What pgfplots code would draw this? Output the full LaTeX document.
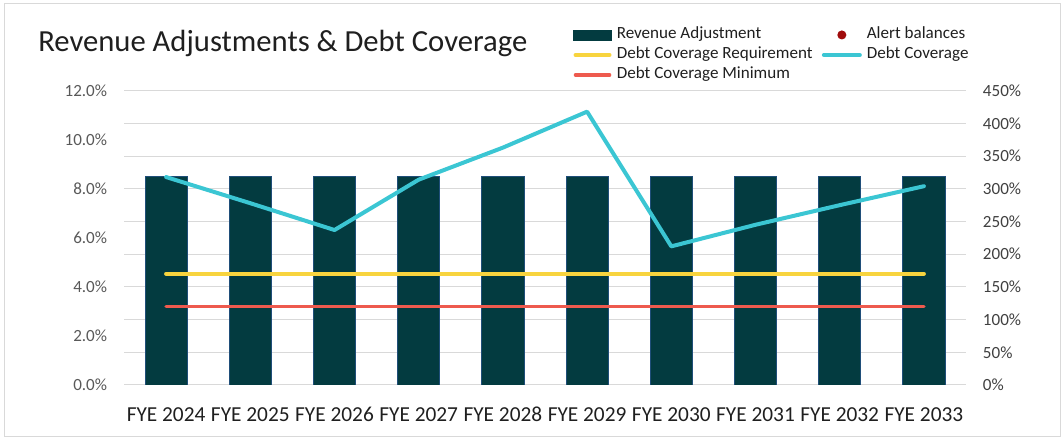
\documentclass[border=0pt]{standalone}
\usepackage{fontspec}
\setmainfont{Carlito}
\usepackage{pgfplots}
\pgfplotsset{compat=1.18}
\definecolor{barfill}{HTML}{033B40}
\definecolor{baredge}{HTML}{1F4E79}
\definecolor{covcyan}{HTML}{3BC6D3}
\definecolor{reqyellow}{HTML}{F8D43E}
\definecolor{minred}{HTML}{EE5A4E}
\definecolor{alertred}{HTML}{A00C0C}
\definecolor{gridgray}{HTML}{D9D9D9}
\definecolor{leftlab}{HTML}{595959}
\definecolor{rightlab}{HTML}{404040}
\definecolor{textdark}{HTML}{1F1F1F}

\pgfplotsset{
  lineleg/.style={legend image code/.code={\draw[##1,line cap=round] (1.5pt,0pt) -- (27pt,0pt);}},
  covleg/.style={legend image code/.code={\draw[##1,line cap=round] (1.5pt,0pt) -- (28.5pt,0pt);}},
  barleg/.style={legend image code/.code={\fill[barfill] (0pt,-3.75pt) rectangle (28.5pt,3.75pt);}},
  dotleg/.style={legend image code/.code={\path[draw=none,fill=none] (0pt,0pt) rectangle (30pt,0.1pt); \fill[alertred,draw=none] (15pt,0pt) circle (3.4pt);}},
  commonax/.style={
    set layers,
    scale only axis,
    width=631.5pt, height=220.7pt,
    at={(93pt,42pt)}, anchor=south west,
    xmin=-0.5, xmax=9.5,
    axis line style={draw=none},
    major tick length=0pt,
    /pgf/number format/assume math mode=true,
  },
}

\begin{document}
\begin{tikzpicture}
\path (0,0) rectangle (798pt,330.75pt);
\draw[gridgray, line width=0.75pt] (3.4pt,3pt) rectangle (795pt,328pt);
\node[anchor=base west, inner sep=0pt, text=textdark, font=\fontsize{23}{27}\selectfont]
  at (28.5pt,292pt) {Revenue Adjustments \& Debt Coverage};

% left axis: revenue adjustment bars
\begin{axis}[commonax,
  ymin=0, ymax=12,
  axis x line*=bottom, axis y line*=left,
  xtick={0,...,9},
  xticklabels={FYE 2024,FYE 2025,FYE 2026,FYE 2027,FYE 2028,FYE 2029,FYE 2030,FYE 2031,FYE 2032,FYE 2033},
  xticklabel style={anchor=base, yshift=-27.45pt, inner sep=0pt, text=textdark, font=\fontsize{16}{19}\selectfont},
  ytick={0,2,...,12},
  yticklabel={\pgfmathprintnumber[fixed,fixed zerofill,precision=1]{\tick}\%},
  yticklabel style={anchor=east, inner sep=0pt, xshift=-12.5pt, text=leftlab, font=\fontsize{12.8}{15}\selectfont},
]
\addplot[ybar, bar width=0.5, fill=barfill, draw=baredge, line width=0.6pt]
  coordinates {(0,8.5)(1,8.5)(2,8.5)(3,8.5)(4,8.5)(5,8.5)(6,8.5)(7,8.5)(8,8.5)(9,8.5)};
\end{axis}

% right axis: coverage lines
\begin{axis}[commonax,
  ymin=0, ymax=450,
  axis x line=none, axis y line*=right,
  ytick={0,50,...,450},
  yticklabel={\pgfmathprintnumber{\tick}\%},
  yticklabel style={anchor=west, inner sep=0pt, xshift=12.5pt, text=rightlab, font=\fontsize{12.8}{15}\selectfont},
  ymajorgrids, grid style={gridgray, line width=0.75pt},
  legend columns=2,
  legend cell align=left,
  legend style={at={(0.5285,1.2267)}, anchor=north west, draw=none, fill=none,
    font=\fontsize{12.8}{15}\selectfont, text=textdark,
    nodes={inner sep=0pt, text height=9pt, text depth=3pt},
    row sep=3pt,
    /tikz/every odd column/.append style={column sep=3.75pt},
    /tikz/every even column/.append style={column sep=7pt}},
]
\addlegendimage{barleg}
\addlegendentry{Revenue Adjustment}
\addlegendimage{dotleg}
\addlegendentry{Alert balances}
\addplot[reqyellow, line width=3pt, line cap=round, lineleg]
  coordinates {(0,170)(1,170)(2,170)(3,170)(4,170)(5,170)(6,170)(7,170)(8,170)(9,170)};
\addlegendentry{Debt Coverage Requirement}
\addplot[covcyan, line width=3pt, line cap=round, line join=round, covleg]
  coordinates {(0,318)(1,278)(2,237)(3,314)(4,363)(5,418)(6,212)(7,245)(8,275)(9,304)};
\addlegendentry{Debt Coverage}
\addplot[minred, line width=2.7pt, line cap=round, lineleg]
  coordinates {(0,120)(1,120)(2,120)(3,120)(4,120)(5,120)(6,120)(7,120)(8,120)(9,120)};
\addlegendentry{Debt Coverage Minimum}
\end{axis}
\end{tikzpicture}
\end{document}
